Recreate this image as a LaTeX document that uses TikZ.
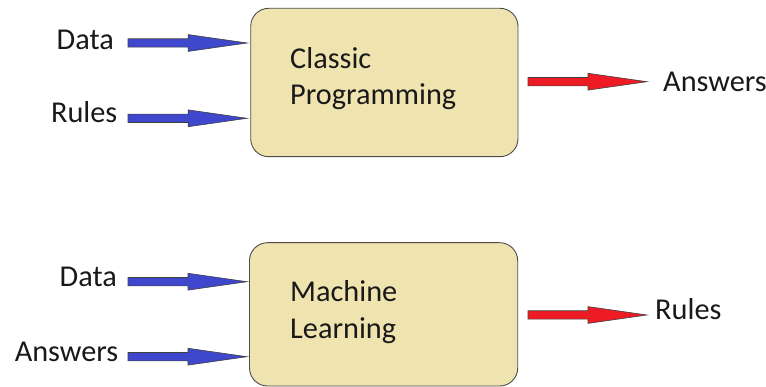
\documentclass[tikz,border=0pt]{standalone}
\usepackage{fontspec}
\setmainfont{Carlito}
\usetikzlibrary{calc}

\definecolor{boxfill}{HTML}{EFE4B0}
\definecolor{inblue}{HTML}{3F48CC}
\definecolor{outred}{HTML}{ED1C24}

% fat block arrow from #1 to #2 (horizontal), filled with #3
\newcommand\fatarrow[3]{%
  \filldraw[fill=#3, draw=black!75, line width=0.6pt, line join=miter]
    let \p1=(#1), \p2=(#2) in
    (\x1,\y1+4.2pt) -- (\x2-59pt,\y1+4.2pt) -- (\x2-59pt,\y1+8.4pt) --
    (\x2,\y1) --
    (\x2-59pt,\y1-8.4pt) -- (\x2-59pt,\y1-4.2pt) -- (\x1,\y1-4.2pt) -- cycle;}

\begin{document}
\begin{tikzpicture}[x=1pt,y=-1pt,
  procbox/.style={draw=black!70, line width=0.9pt, fill=boxfill,
    rounded corners=18pt, inner sep=0pt, outer sep=0pt},
  lbl/.style={inner sep=0pt, font=\fontsize{30.3}{36}\selectfont, text=black!90}]
\useasboundingbox (0,0) rectangle (766,387);

% ---- classic programming ----
\node[procbox, minimum width=267.3pt, minimum height=148.4pt] (cp) at (384.35,82.5) {};
\node[lbl, anchor=base west] (cp1) at (290,68.3) {Classic};
\node[lbl, anchor=base west] (cp2) at (290,105) {Programming};

\node[lbl, anchor=base east] (d1) at (114,49.3) {Data};
\node[lbl, anchor=base east] (r1) at (117.5,122.7) {Rules};
\node[lbl, anchor=base west] (a1) at (663,91.7) {Answers};

\coordinate (d1s) at (128,43);
\coordinate (r1s) at (128,118.3);
\coordinate (cps) at (528,81.7);
\coordinate (d1e) at ($(cp.west |- d1s)+(-3.5,0)$);
\coordinate (r1e) at ($(cp.west |- r1s)+(-3.5,0)$);
\coordinate (cpe) at (647,81.7);
\fatarrow{d1s}{d1e}{inblue}
\fatarrow{r1s}{r1e}{inblue}
\fatarrow{cps}{cpe}{outred}

% ---- machine learning ----
\node[procbox, minimum width=268.2pt, minimum height=143.3pt] (ml) at (383.6,314.35) {};
\node[lbl, anchor=base west] (ml1) at (290,301.7) {Machine};
\node[lbl, anchor=base west] (ml2) at (290,338.3) {Learning};

\node[lbl, anchor=base east] (d2) at (117,286.7) {Data};
\node[lbl, anchor=base east] (a2) at (118.5,361.7) {Answers};
\node[lbl, anchor=base west] (r2) at (655,320) {Rules};

\coordinate (d2s) at (128,281.7);
\coordinate (a2s) at (128,356.7);
\coordinate (mls) at (528,315);
\coordinate (d2e) at ($(ml.west |- d2s)+(-2.5,0)$);
\coordinate (a2e) at ($(ml.west |- a2s)+(-2.5,0)$);
\coordinate (mle) at (647,315);
\fatarrow{d2s}{d2e}{inblue}
\fatarrow{a2s}{a2e}{inblue}
\fatarrow{mls}{mle}{outred}
\end{tikzpicture}
\end{document}
